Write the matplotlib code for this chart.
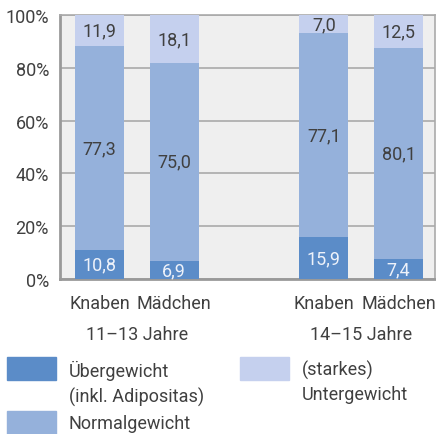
import matplotlib.pyplot as plt
import numpy as np
from matplotlib.patches import Rectangle

plt.rcParams['font.family'] = ['Roboto', 'DejaVu Sans']

# data
bar_labels = ['Knaben', 'Mädchen', 'Knaben', 'Mädchen']
group_labels = ['11–13 Jahre', '14–15 Jahre']
ueber = [10.8, 6.9, 15.9, 7.4]
normal = [77.3, 75.0, 77.1, 80.1]
unter = [11.9, 18.1, 7.0, 12.5]
legend_labels = ['Übergewicht\n(inkl. Adipositas)', 'Normalgewicht', '(starkes)\nUntergewicht']

c_ueber = '#5b8cc8'
c_normal = '#95b1db'
c_unter = '#c5d0ee'
dark = '#404040'
fs = 13

x = np.array([0, 1, 3, 4])

fig = plt.figure(figsize=(4.36, 4.35), dpi=100)
ax = fig.add_axes([60 / 436, 1 - 280 / 435, 375 / 436, 264 / 435])
ax.set_facecolor('#efefef')

w = 0.653
ueber = np.array(ueber)
normal = np.array(normal)
unter = np.array(unter)
ax.bar(x, ueber, w, color=c_ueber, zorder=3)
ax.bar(x, normal, w, bottom=ueber, color=c_normal, zorder=3)
ax.bar(x, unter, w, bottom=ueber + normal, color=c_unter, zorder=3)

def fmt(v):
    return f'{v:.1f}'.replace('.', ',')

for i in range(len(x)):
    ax.text(x[i], ueber[i] / 2, fmt(ueber[i]), ha='center', va='center',
            color='#eef2fa', fontsize=fs, zorder=4)
    ax.text(x[i], ueber[i] + normal[i] / 2, fmt(normal[i]), ha='center', va='center',
            color=dark, fontsize=fs, zorder=4)
    ax.text(x[i], ueber[i] + normal[i] + unter[i] / 2, fmt(unter[i]), ha='center',
            va='center', color=dark, fontsize=fs, zorder=4)

ax.set_xlim(-0.527, 4.487)
ax.set_ylim(0, 100)
ax.set_yticks(np.arange(0, 101, 20))
ax.set_yticklabels([f'{v}%' for v in range(0, 101, 20)])
ax.set_xticks(x)
ax.set_xticklabels(bar_labels)
ax.tick_params(length=0, labelsize=fs, labelcolor=dark)
ax.tick_params(axis='y', pad=8)
ax.tick_params(axis='x', pad=11)
ax.yaxis.grid(True, color='#aaaaaa', linewidth=1.2, zorder=0)
for s in ax.spines.values():
    s.set_color('#aaaaaa')
    s.set_linewidth(1.2)
ax.spines['left'].set_color('#999999')
ax.spines['bottom'].set_color('#999999')
ax.spines['left'].set_linewidth(2)
ax.spines['bottom'].set_linewidth(2)

for g, lab in enumerate(group_labels):
    ax.text((x[2 * g] + x[2 * g + 1]) / 2, -0.21, lab, transform=ax.get_xaxis_transform(),
            ha='center', va='center', fontsize=fs, color=dark)

# legend
leg = [(7, 358, c_ueber, legend_labels[0]), (7, 412, c_normal, legend_labels[1]),
       (240, 358, c_unter, legend_labels[2])]
for lx, ly, col, lab in leg:
    fig.add_artist(Rectangle((lx / 436, 1 - (ly + 23) / 435), 49 / 436, 23 / 435,
                             transform=fig.transFigure, color=col))
    fig.text((lx + 62) / 436, 1 - (ly + 3) / 435, lab, ha='left', va='top',
             fontsize=fs, color=dark, linespacing=1.45)

fig.savefig('out.png', dpi=100)
